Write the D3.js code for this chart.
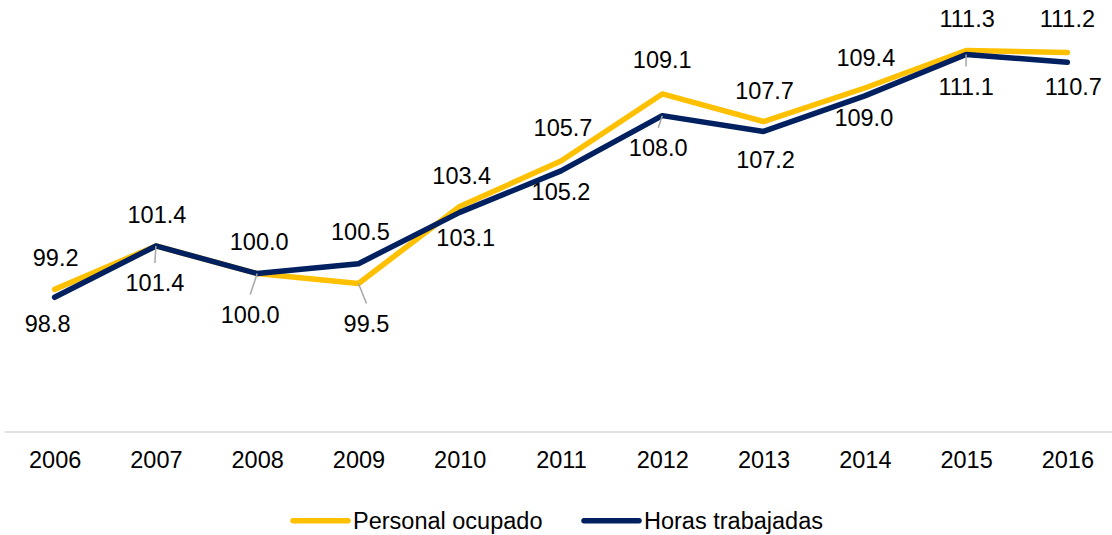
<!DOCTYPE html>
<html lang="es">
  <head>
    <meta charset="UTF-8" />
    <script src="https://d3js.org/d3.v7.min.js"></script>
    <title>Personal ocupado y horas trabajadas</title>
    <style>
      body { margin: 0; background: #fff; }
      text { font-family: "Liberation Sans", Arial, sans-serif; fill: #000; }
    </style>
  </head>
  <body>
    <svg id="chart" width="1112" height="535"></svg>
  </body>
  <script>
    // data
    var years = ["2006", "2007", "2008", "2009", "2010", "2011", "2012", "2013", "2014", "2015", "2016"];
    var personalOcupado = [99.2, 101.4, 100.0, 99.5, 103.4, 105.7, 109.1, 107.7, 109.4, 111.3, 111.2];
    var horasTrabajadas = [98.8, 101.4, 100.0, 100.5, 103.1, 105.2, 108.0, 107.2, 109.0, 111.1, 110.7];
    var seriesNames = ["Personal ocupado", "Horas trabajadas"];

    // label placement (dx, dy from the point, leader line or not)
    var personalLabelPos = [[1, -32], [1, -31], [2, -32], [8, 40, true], [2, -31], [2, -33],
      [0, -34], [1, -31], [1, -30], [1, -32], [0, -34]];
    var horasLabelPos = [[-7, 27], [-1, 37, true], [-7, 41, true], [2, -32], [6, 25], [0, 21],
      [-4, 32, true], [2, 28], [-1, 22], [0, 32, true], [6, 24]];

    var svg = d3.select("#chart");
    var fontSize = 23.5;

    var x = d3.scalePoint().domain(years).range([4, 1118]).padding(0.5);
    var y = d3.scaleLinear().domain([92, 114]).range([431.5, -2.8]);

    var series = [
      { name: seriesNames[0], values: personalOcupado, color: "#FFC000", pos: personalLabelPos },
      { name: seriesNames[1], values: horasTrabajadas, color: "#002060", pos: horasLabelPos }
    ];

    // x axis
    var xAxis = svg.append("g")
      .attr("transform", "translate(0,431.5)")
      .call(d3.axisBottom(x).tickSize(0).tickPadding(20).tickSizeOuter(0));
    xAxis.select(".domain").attr("stroke", "#d9d9d9").attr("stroke-width", 1.5);
    xAxis.selectAll("text")
      .style("font-family", "Liberation Sans, Arial, sans-serif")
      .style("font-size", fontSize + "px")
      .attr("fill", "#000");

    var line = d3.line()
      .x(function (d, i) { return x(years[i]); })
      .y(function (d) { return y(d); });

    // lines
    series.forEach(function (s) {
      svg.append("path")
        .datum(s.values)
        .attr("fill", "none")
        .attr("stroke", s.color)
        .attr("stroke-width", 5.5)
        .attr("stroke-linejoin", "round")
        .attr("stroke-linecap", "round")
        .attr("d", line);
    });

    // leader lines + data labels
    series.forEach(function (s) {
      var g = svg.append("g");
      s.values.forEach(function (v, i) {
        var px = x(years[i]), py = y(v);
        var lx = px + s.pos[i][0], ly = py + s.pos[i][1];
        if (s.pos[i][2]) {
          g.append("line")
            .attr("x1", px).attr("y1", py)
            .attr("x2", lx).attr("y2", ly - 20)
            .attr("stroke", "#a6a6a6")
            .attr("stroke-width", 1.5);
        }
        g.append("text")
          .attr("x", lx)
          .attr("y", ly)
          .attr("dy", "0.35em")
          .attr("text-anchor", "middle")
          .style("font-size", fontSize + "px")
          .text(v.toFixed(1));
      });
    });

    // legend
    var legendX = [293, 584];
    var legend = svg.append("g").selectAll("g")
      .data(series)
      .enter()
      .append("g")
      .attr("transform", function (d, i) { return "translate(" + legendX[i] + ",520.7)"; });
    legend.append("line")
      .attr("x1", 0).attr("x2", 55)
      .attr("stroke", function (d) { return d.color; })
      .attr("stroke-width", 5.5)
      .attr("stroke-linecap", "round");
    legend.append("text")
      .attr("x", 60)
      .attr("dy", "0.35em")
      .style("font-size", fontSize + "px")
      .text(function (d) { return d.name; });
  </script>
</html>
